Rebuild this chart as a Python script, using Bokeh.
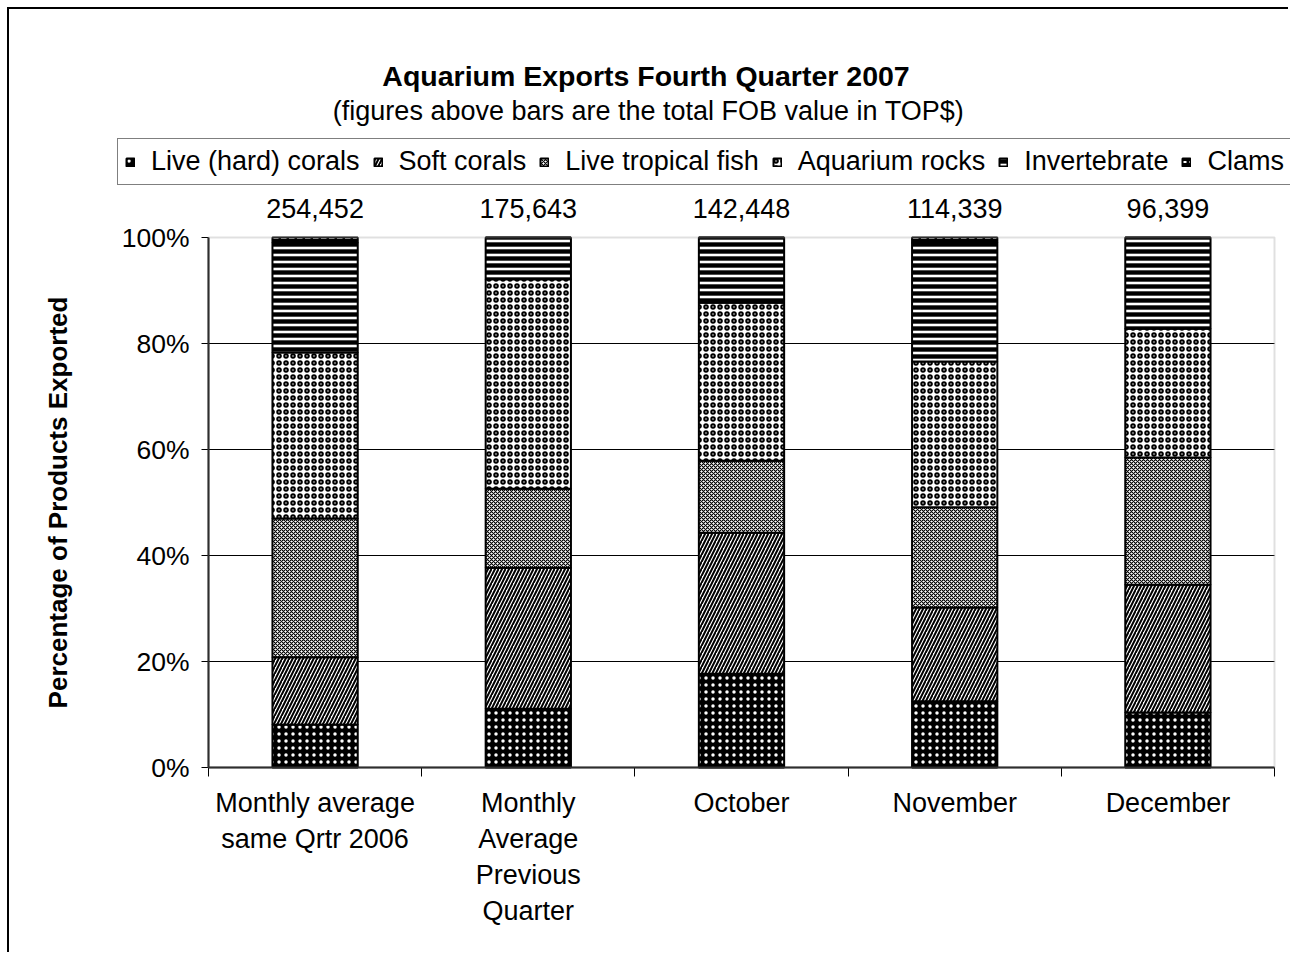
from bokeh.plotting import figure
from bokeh.models import (Range1d, FixedTicker, Label, Legend, LegendItem, ColumnDataSource,
                          BoxAnnotation)
from bokeh.embed import file_html
from bokeh.resources import INLINE
import numpy as np

# ---------------- data ----------------
categories = ["Monthly average\nsame Qrtr 2006", "Monthly\nAverage\nPrevious\nQuarter",
              "October", "November", "December"]
totals = ["254,452", "175,643", "142,448", "114,339", "96,399"]
series_names = ["Live (hard) corals", "Soft corals", "Live tropical fish",
                "Aquarium rocks", "Invertebrate", "Clams"]
live_hard_corals = [8.1, 11.1, 17.7, 12.5, 10.4]
soft_corals = [12.7, 26.6, 26.6, 17.7, 24.1]
live_tropical_fish = [26.2, 14.9, 13.6, 18.9, 24.0]
aquarium_rocks = [31.3, 39.5, 29.8, 27.5, 24.3]
invertebrate = [20.7, 7.9, 12.3, 22.4, 17.2]
clams = [1.0, 0.0, 0.0, 1.0, 0.0]
y_ticks = [0, 20, 40, 60, 80, 100]
y_tick_labels = ["0%", "20%", "40%", "60%", "80%", "100%"]
title_text = "Aquarium Exports Fourth Quarter 2007"
subtitle_text = "(figures above bars are the total FOB value in TOP$)"

series = [live_hard_corals, soft_corals, live_tropical_fish, aquarium_rocks, invertebrate, clams]

# styles: (fill, hatch pattern, hatch color, scale, weight)
styles = [
    ("black", ".", "white", 7, 1.0),
    ("white", "/", "black", 7, 2.0),
    ("white", "x", "black", 4, 1.1),
    ("white", "o", "black", 7, 2.0),
    ("white", "-", "black", 7, 4.4),
    ("black", '"', "white", 8, 2.0),
]

FONT = "Liberation Sans"
n = len(categories)
x_lo, x_hi = -0.5, n - 0.5          # extent of the category band
px_per_cat = 213.2                  # frame scale (px per category)
px_per_pct = 5.3                    # frame scale (px per percent)

# the frame covers the whole canvas; axes are pinned to the category band
x_start = x_lo - 199 / px_per_cat
x_end = x_hi + 16 / px_per_cat
y_start = -187 / px_per_pct
y_end = 758 / px_per_pct

p = figure(width=1281, height=945, x_range=Range1d(x_start, x_end), y_range=Range1d(y_start, y_end),
           output_backend="svg", toolbar_location=None,
           min_border_left=0, min_border_right=0, min_border_top=0, min_border_bottom=0)
p.styles = {"margin-left": "7px", "margin-top": "7px",
            "border-left": "2px solid black", "border-top": "2px solid black"}
p.outline_line_color = None
p.grid.visible = False

# horizontal gridlines (only across the category band)
grid_y = y_ticks[1:-1]
p.segment(x0=[x_lo] * len(grid_y), x1=[x_hi] * len(grid_y), y0=grid_y, y1=grid_y,
          line_color="black", line_width=1)
p.add_layout(BoxAnnotation(left=x_lo, right=x_hi, bottom=y_ticks[0], top=y_ticks[-1], fill_alpha=0,
                           line_color="#999999", line_width=2))

x = np.arange(n)
bottom = np.zeros(n)
renderers = []
for vals, (fc, hp, hc, hs, hw) in zip(series, styles):
    vals = np.array(vals, dtype=float)
    src = ColumnDataSource(dict(x=x, bottom=bottom.copy(), top=bottom + vals))
    r = p.vbar(x="x", bottom="bottom", top="top", width=0.4, source=src,
               fill_color=fc, hatch_pattern=hp, hatch_color=hc, hatch_scale=hs,
               hatch_weight=hw, line_color="black", line_width=2)
    renderers.append(r)
    bottom = bottom + vals

for xi, t in zip(x, totals):
    p.add_layout(Label(x=float(xi), y=105.5, text=t, text_align="center", text_baseline="middle",
                       text_font=FONT, text_font_size="27px", text_color="black"))

p.add_layout(Label(x=x_lo + 437.5 / px_per_cat, y=692 / px_per_pct, text=title_text,
                   text_align="center", text_baseline="middle", text_font=FONT,
                   text_font_size="28.5px", text_font_style="bold", text_color="black"))
p.add_layout(Label(x=x_lo + 440 / px_per_cat, y=657 / px_per_pct, text=subtitle_text,
                   text_align="center", text_baseline="middle", text_font=FONT,
                   text_font_size="27px", text_color="black"))

legend = Legend(items=[LegendItem(label=s, renderers=[r]) for s, r in zip(series_names, renderers)],
                orientation="horizontal", location=(108, 769),
                glyph_width=10, glyph_height=10, label_standoff=16, spacing=13,
                padding=7, margin=0, border_line_color="black", border_line_width=1,
                label_text_font=FONT, label_text_font_size="27px", label_text_color="black",
                background_fill_color="white", background_fill_alpha=1)
p.add_layout(legend)

# y axis pinned at the left edge of the category band
p.yaxis.fixed_location = x_lo
p.yaxis.ticker = FixedTicker(ticks=y_ticks)
p.yaxis.bounds = (y_ticks[0], y_ticks[-1])
p.yaxis.major_label_overrides = {t: l for t, l in zip(y_ticks, y_tick_labels)}
p.yaxis.minor_tick_line_color = None
p.yaxis.major_tick_out = 7
p.yaxis.major_tick_in = 0
p.yaxis.major_label_standoff = 12
p.yaxis.axis_label = "Percentage of Products Exported"
p.yaxis.axis_label_text_font = FONT
p.yaxis.axis_label_text_font_style = "bold"
p.yaxis.axis_label_text_font_size = "26px"
p.yaxis.axis_label_standoff = 46
p.yaxis.major_label_text_font = FONT
p.yaxis.major_label_text_font_size = "26.5px"
p.yaxis.major_label_text_color = "black"
p.yaxis.axis_label_text_color = "black"
p.yaxis.axis_line_color = "black"
p.yaxis.axis_line_width = 2

# x axis pinned at 0%
p.xaxis.fixed_location = y_ticks[0]
p.xaxis.ticker = FixedTicker(ticks=list(x), minor_ticks=list(np.arange(n + 1) - 0.5))
p.xaxis.bounds = (x_lo, x_hi)
p.xaxis.major_label_overrides = {int(i): c for i, c in zip(x, categories)}
p.xaxis.major_tick_out = 0
p.xaxis.major_tick_in = 0
p.xaxis.minor_tick_out = 9
p.xaxis.minor_tick_in = 0
p.xaxis.minor_tick_line_color = "black"
p.xaxis.minor_tick_line_width = 1
p.xaxis.major_label_standoff = 11
p.xaxis.major_label_text_font = FONT
p.xaxis.major_label_text_font_size = "27px"
p.xaxis.major_label_text_color = "black"
p.xaxis.major_label_text_line_height = 1.2
p.xaxis.axis_line_color = "black"
p.xaxis.axis_line_width = 2

open("out.html", "w").write(file_html(p, INLINE))
